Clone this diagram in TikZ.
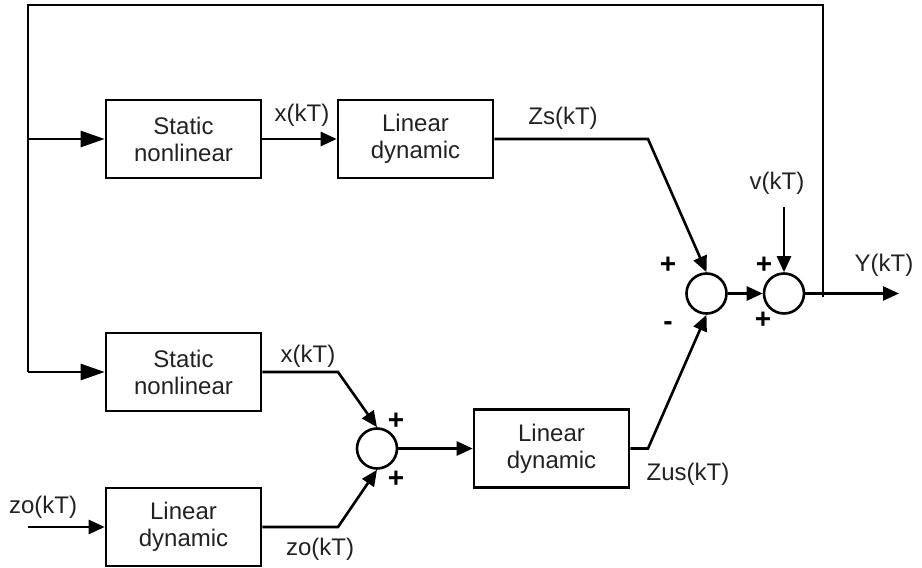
\documentclass[tikz,border=0pt]{standalone}
\usepackage{fontspec}
\setmainfont{Liberation Sans}
\usetikzlibrary{arrows.meta}
\definecolor{txt}{RGB}{34,34,34}
\tikzset{
  blk/.style={draw, line width=2.6pt, minimum width=155pt, minimum height=78pt, align=center, inner sep=0pt, text=txt, font=\fontsize{24}{27}\selectfont},
  sumc/.style={draw, circle, line width=2.6pt, minimum size=40pt, inner sep=0pt},
  wire/.style={line width=2.6pt},
  bigarr/.style={wire, -{Triangle[length=24pt,width=16pt]}},
  smarr/.style={wire, -{Triangle[length=16pt,width=14pt]}},
  lbl/.style={text=txt, font=\fontsize{24}{27}\selectfont, inner sep=0pt},
  sgn/.style={font=\bfseries\fontsize{28}{30}\selectfont, inner sep=0pt}
}
\begin{document}
\begin{tikzpicture}[x=1pt,y=-1pt]
\useasboundingbox (0,0) rectangle (922,568);
% blocks
\node[blk] (sn1) at (183.5,139) {Static\\nonlinear};
\node[blk] (ld1) at (415.5,139) {Linear\\dynamic};
\node[blk] (sn2) at (183.5,372) {Static\\nonlinear};
\node[blk] (ld3) at (183.5,527) {Linear\\dynamic};
\node[blk] (ld4) at (551.5,448.5) {Linear\\dynamic};
% summing junctions
\node[sumc] (c1) at (706.5,293.5) {};
\node[sumc] (c2) at (784,293.5) {};
\node[sumc] (c3) at (377,448.5) {};
% coordinates
\coordinate (tl) at (28,5);
\coordinate (tr) at (823,5);
\coordinate (jb) at (823,297);
\coordinate (l1) at (28,139);
\coordinate (l2) at (28,372);
\coordinate (out) at (899,293.5);
\coordinate (vin) at (784,207);
\coordinate (zin) at (28,527);
\coordinate (k1) at (648,139);
\coordinate (k2) at (648,448.5);
\coordinate (k3) at (338,372);
\coordinate (k4) at (338,527);
% feedback
\draw[wire] (jb) -- (tr) -- (tl) -- (l2);
\draw[bigarr] (l1) -- (sn1.west);
\draw[bigarr] (l2) -- (sn2.west);
% top path
\draw[smarr] (sn1.east) -- (ld1.west);
\draw[smarr] (ld1.east) -- (k1) -- (c1.north);
\draw[smarr] (c1.east) -- (c2.west);
\draw[smarr] (vin) -- (c2.north);
\draw[smarr] (c2.east) -- (out);
% lower path
\draw[smarr] (zin) -- (ld3.west);
\draw[smarr] (sn2.east) -- (k3) -- (c3.north);
\draw[smarr] (ld3.east) -- (k4) -- (c3.south);
\draw[smarr] (c3.east) -- (ld4.west);
\draw[smarr] (ld4.east) -- (k2) -- (c1.south);
% labels
\node[lbl] (lx1) at (302,115) {x(kT)};
\node[lbl] (lzs) at (563,118) {Zs(kT)};
\node[lbl] (lx2) at (308,356) {x(kT)};
\node[lbl] (lzo2) at (320,549) {zo(kT)};
\node[lbl] (lzus) at (688,474) {Zus(kT)};
\node[lbl] (lv) at (777,183) {v(kT)};
\node[lbl] (ly) at (884,265) {Y(kT)};
\node[lbl] (lzo1) at (43,507) {zo(kT)};
% signs
\node[sgn] (s1) at (668,265) {+};
\node[sgn] (s2) at (764,265) {+};
\node[sgn] (s3) at (668,326) {-};
\node[sgn] (s4) at (763,320) {+};
\node[sgn] (s5) at (396,421) {+};
\node[sgn] (s6) at (396,479) {+};
\end{tikzpicture}
\end{document}
